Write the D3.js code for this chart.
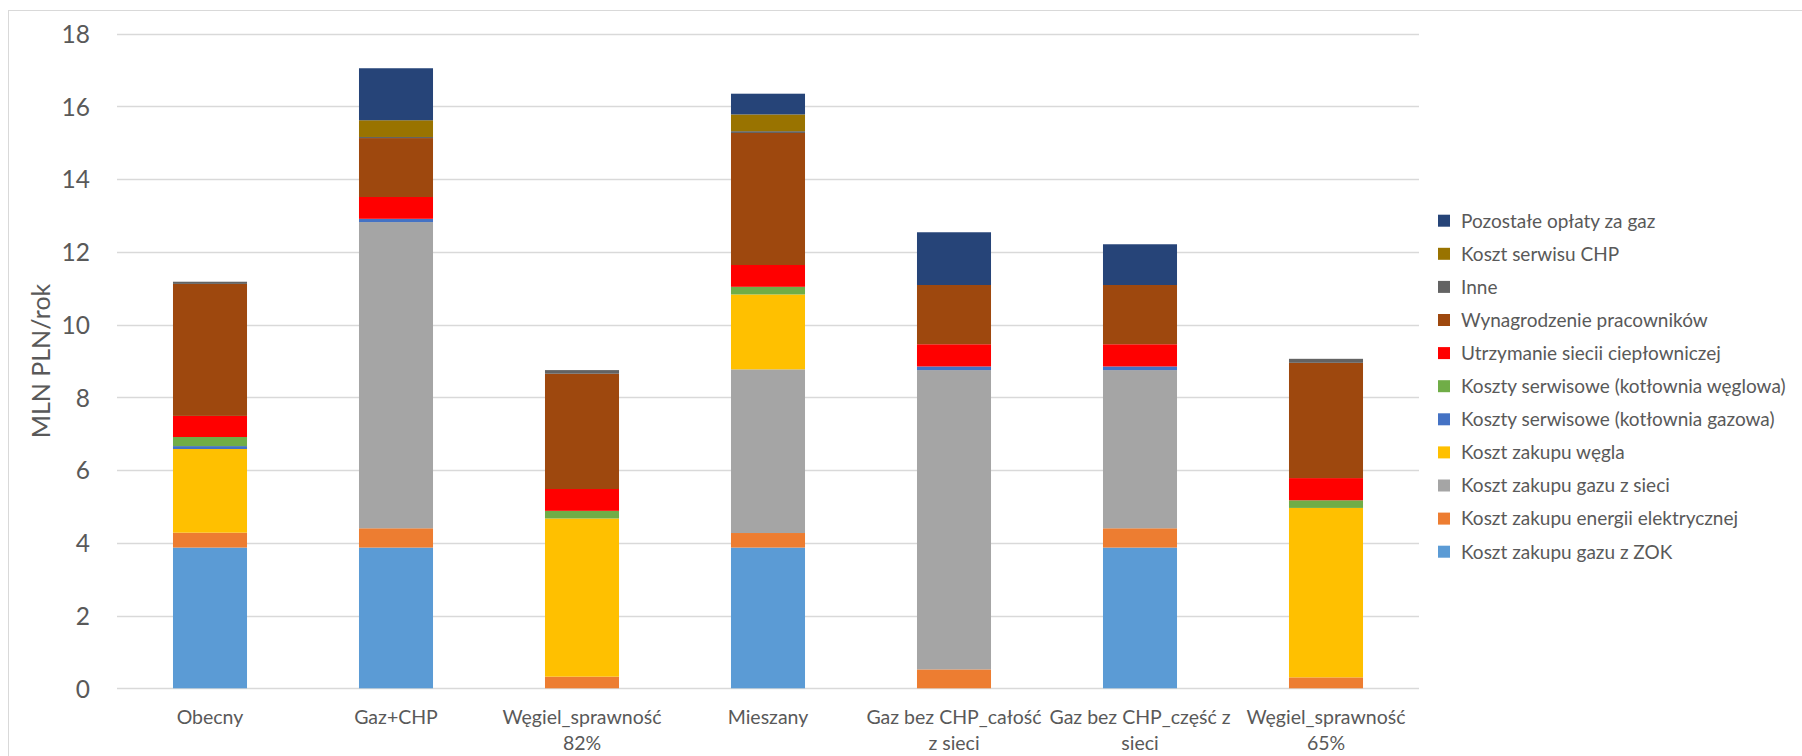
<!DOCTYPE html>
<html><head><meta charset="utf-8">
<script src="https://cdn.jsdelivr.net/npm/d3@7"></script>
<style>html,body{margin:0;padding:0;background:#fff;}svg{display:block;}</style>
</head><body>
<svg id="chart" width="1802" height="756"></svg>
<script>
const categories = ["Obecny","Gaz+CHP","Węgiel_sprawność 82%","Mieszany","Gaz bez CHP_całość z sieci","Gaz bez CHP_część z sieci","Węgiel_sprawność 65%"];
const categoryLines = [["Obecny"],["Gaz+CHP"],["Węgiel_sprawność","82%"],["Mieszany"],["Gaz bez CHP_całość","z sieci"],["Gaz bez CHP_część z","sieci"],["Węgiel_sprawność","65%"]];
const seriesNames = ["Koszt zakupu gazu z ZOK","Koszt zakupu energii elektrycznej","Koszt zakupu gazu z sieci","Koszt zakupu węgla","Koszty serwisowe (kotłownia gazowa)","Koszty serwisowe (kotłownia węglowa)","Utrzymanie siecii ciepłowniczej","Wynagrodzenie pracowników","Inne","Koszt serwisu CHP","Pozostałe opłaty za gaz"];
const gazZOK     = [3.87, 3.87, 0,    3.87, 0,    3.87, 0];
const energia    = [0.41, 0.53, 0.32, 0.40, 0.52, 0.53, 0.30];
const gazSieci   = [0,    8.42, 0,    4.50, 8.23, 4.35, 0];
const wegiel     = [2.30, 0,    4.35, 2.06, 0,    0,    4.66];
const serwGaz    = [0.08, 0.09, 0,    0,    0.10, 0.10, 0];
const serwWegiel = [0.25, 0,    0.21, 0.21, 0,    0,    0.21];
const siec       = [0.58, 0.60, 0.60, 0.60, 0.61, 0.61, 0.61];
const wynagr     = [3.63, 1.62, 3.17, 3.63, 1.63, 1.63, 3.17];
const inne       = [0.06, 0.03, 0.10, 0.05, 0,    0,    0.11];
const serwisCHP  = [0,    0.46, 0,    0.46, 0,    0,    0];
const pozostale  = [0,    1.43, 0,    0.57, 1.45, 1.12, 0];
const yTicks = [0,2,4,6,8,10,12,14,16,18];
const colors = ["#5B9BD5","#ED7D31","#A5A5A5","#FFC000","#4472C4","#70AD47","#FF0000","#9E480E","#636363","#997300","#264478"];

const seriesValues = [gazZOK, energia, gazSieci, wegiel, serwGaz, serwWegiel, siec, wynagr, inne, serwisCHP, pozostale];
const rows = categories.map((c, i) => {
  const r = {cat: c};
  seriesNames.forEach((s, j) => r[s] = seriesValues[j][i]);
  return r;
});

const svg = d3.select("#chart");
const font = "Lato, 'Open Sans', sans-serif";
const textColor = "#595959";

svg.append("rect").attr("x", 8.5).attr("y", 10.5).attr("width", 1900).attr("height", 800)
  .attr("fill", "#fff").attr("stroke", "#d9d9d9").attr("stroke-width", 1);

const x = d3.scaleBand().domain(categories).range([117, 1419]).paddingInner(0.602).paddingOuter(0.301);
const y = d3.scaleLinear().domain([0, 18]).range([688.3, 33.7]);

// gridlines
svg.append("g").selectAll("line").data(yTicks).join("line")
  .attr("x1", 117).attr("x2", 1419)
  .attr("y1", d => Math.round(y(d)) + 0.5).attr("y2", d => Math.round(y(d)) + 0.5)
  .attr("stroke", "#d9d9d9").attr("stroke-width", 1.3);

// y axis labels
const yAxis = d3.axisLeft(y).tickValues(yTicks).tickSize(0).tickPadding(0);
const gy = svg.append("g").attr("transform", "translate(90,0)").call(yAxis);
gy.select(".domain").remove();
gy.selectAll("text").attr("font-family", font).attr("font-size", 24.5).attr("fill", textColor)
  .attr("dy", "0.36em");

// stacked bars
const stack = d3.stack().keys(seriesNames);
const stacked = stack(rows);
svg.append("g").selectAll("g").data(stacked).join("g")
  .attr("fill", (d, i) => colors[i])
  .selectAll("rect").data(d => d.filter(p => p[1] - p[0] > 0)).join("rect")
  .attr("x", d => x(d.data.cat))
  .attr("width", x.bandwidth())
  .attr("y", d => y(d[1]))
  .attr("height", d => y(d[0]) - y(d[1]));

// x axis labels
const xAxis = d3.axisBottom(x).tickSize(0).tickFormat(() => "");
const gx = svg.append("g").attr("transform", `translate(0,${y(0)})`).call(xAxis);
gx.select(".domain").remove();
categories.forEach((c, i) => {
  const t = svg.append("text").attr("x", x(c) + x.bandwidth() / 2).attr("y", 724)
    .attr("text-anchor", "middle").attr("font-family", font).attr("font-size", 19.5).attr("fill", textColor);
  categoryLines[i].forEach((ln, k) => t.append("tspan").attr("x", x(c) + x.bandwidth() / 2).attr("dy", k === 0 ? 0 : 26).text(ln));
});

// y axis title
svg.append("text").attr("transform", "translate(50,361) rotate(-90)")
  .attr("text-anchor", "middle").attr("font-family", font).attr("font-size", 25).attr("fill", textColor)
  .text("MLN PLN/rok");

// legend
const legendItems = seriesNames.map((s, i) => ({name: s, color: colors[i]})).reverse();
const lg = svg.append("g").selectAll("g").data(legendItems).join("g")
  .attr("transform", (d, i) => `translate(1438,${220.7 + i * 33.1})`);
lg.append("rect").attr("x", 0).attr("y", -6).attr("width", 12).attr("height", 12).attr("fill", d => d.color);
lg.append("text").attr("x", 23).attr("y", 0).attr("dy", "0.36em")
  .attr("font-family", font).attr("font-size", 19).attr("fill", textColor).text(d => d.name);
</script>
</body></html>
